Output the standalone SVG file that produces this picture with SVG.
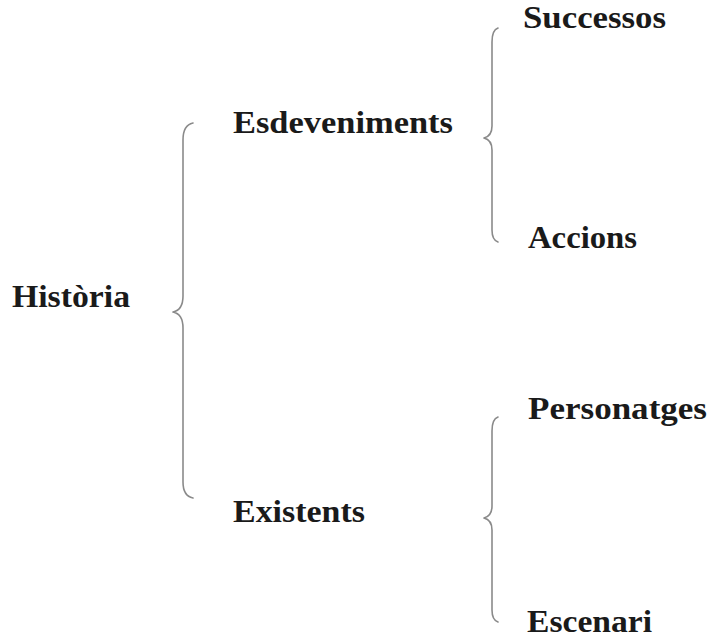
<svg xmlns="http://www.w3.org/2000/svg" width="710" height="638" viewBox="0 0 710 638">
<style>
.t{font-family:"Liberation Serif","DejaVu Serif",serif;font-weight:bold;font-size:31px;fill:#1a1a1a}
.b{fill:none;stroke:#8a8a8a;stroke-width:1.6;stroke-linecap:round;stroke-linejoin:round}
</style>
<rect width="710" height="638" fill="#fff"/>
<g id="connectors">
<path class="b" d="M193,123 Q183,125 183,140 L183,296 Q183,310 173,312 Q183,314 183,328 L183,482 Q183,496 193,498"/>
<path class="b" d="M498,28 Q492,30 492,42 L492,126 Q492,136 484,138 Q492,140 492,150 L492,230 Q492,240 498,242"/>
<path class="b" d="M498,417 Q492,419 492,431 L492,506 Q492,516 484,518 Q492,520 492,530 L492,610 Q492,620 498,622"/>
</g>
<g id="historia"><text class="t" x="12" y="307" textLength="118" lengthAdjust="spacingAndGlyphs">Història</text></g>
<g id="esdeveniments"><text class="t" x="233" y="133" textLength="220" lengthAdjust="spacingAndGlyphs">Esdeveniments</text></g>
<g id="existents"><text class="t" x="233" y="522" textLength="132" lengthAdjust="spacingAndGlyphs">Existents</text></g>
<g id="successos"><text class="t" x="523" y="28" textLength="143" lengthAdjust="spacingAndGlyphs">Successos</text></g>
<g id="accions"><text class="t" x="528" y="248" textLength="109" lengthAdjust="spacingAndGlyphs">Accions</text></g>
<g id="personatges"><text class="t" x="528" y="419" textLength="179" lengthAdjust="spacingAndGlyphs">Personatges</text></g>
<g id="escenari"><text class="t" x="527" y="632" textLength="125" lengthAdjust="spacingAndGlyphs">Escenari</text></g>
</svg>
